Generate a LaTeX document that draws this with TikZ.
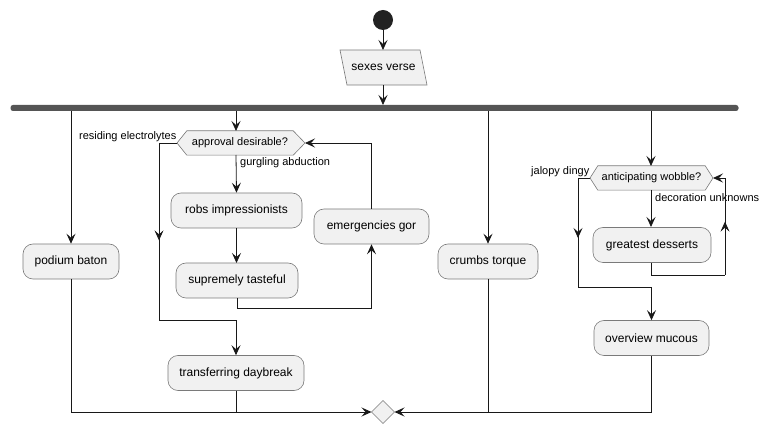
\documentclass[tikz,border=0pt]{standalone}
\usepackage{fontspec}
\setmainfont{Liberation Sans}
\usetikzlibrary{arrows.meta,decorations.markings,backgrounds}
\definecolor{boxfill}{HTML}{F1F1F1}
\definecolor{boxline}{HTML}{7A7A7A}
\definecolor{ink}{HTML}{181818}
\definecolor{barfill}{HTML}{555555}
\definecolor{dotfill}{HTML}{222222}

\begin{document}
\begin{tikzpicture}[x=1pt,y=-1pt,
  every node/.style={font=\fontsize{12}{14}\selectfont},
  act/.style={draw=boxline, fill=boxfill, rounded corners=10pt, line width=0.6pt,
              minimum height=35pt, inner sep=0pt},
  shapeline/.style={draw=boxline, fill=boxfill, line width=0.6pt, line join=miter},
  condtext/.style={inner sep=0pt, minimum height=24pt, font=\fontsize{11}{13}\selectfont},
  lbl/.style={inner sep=0pt, font=\fontsize{11}{13}\selectfont},
  flow/.style={draw=ink, line width=0.8pt},
  tip/.style={-{Stealth[length=10pt,width=9pt,inset=4pt]}},
  midarrow/.style={postaction={decorate}, decoration={markings,
      mark=at position 0.55 with {\arrow{Stealth[length=10pt,width=9pt,inset=4pt]}}}},
]
\useasboundingbox (0,0) rectangle (771,435);

% start, input and fork
\node[circle, fill=dotfill, minimum size=20pt, inner sep=0pt] (start) at (383,20) {};
\node[inner sep=0pt, minimum width=80pt, minimum height=35pt] (io) at (383.5,67.5) {sexes verse};
\node[fill=barfill, rounded corners=2.5pt, minimum width=728pt, minimum height=6pt, inner sep=0pt] (fork) at (374.5,108) {};

% branch 1
\node[act, minimum width=96pt] (podium) at (71,261.5) {podium baton};

% branch 2
\node[condtext, minimum width=106pt] (approval) at (240,143) {approval desirable?};
\coordinate (approvalW) at (177,143);
\coordinate (approvalE) at (305,143);
\node[act, minimum width=131pt] (robs) at (236.5,210.5) {robs impressionists};
\node[act, minimum width=122pt] (supreme) at (237,280.5) {supremely tasteful};
\node[act, minimum width=115pt] (emerg) at (371.5,226.5) {emergencies gor};
\node[act, minimum width=136pt] (transfer) at (236,373) {transferring daybreak};

% branch 3
\node[act, minimum width=100pt] (crumbs) at (488,261.5) {crumbs torque};

% branch 4
\node[condtext, minimum width=107pt] (wobble) at (651.5,178) {anticipating wobble?};
\coordinate (wobbleW) at (590,178);
\coordinate (wobbleE) at (713,178);
\node[act, minimum width=118pt] (dessert) at (652,245) {greatest desserts};
\node[act, minimum width=115pt] (overview) at (651.5,338) {overview mucous};

% merge
\coordinate (mergeW) at (371.5,412);
\coordinate (mergeE) at (394.5,412);
\coordinate (mergeN) at (383,400.5);
\coordinate (mergeS) at (383,423.5);

% shapes drawn behind their texts
\begin{scope}[on background layer]
  \draw[shapeline] (340,50) -- (420,50) -- (427,85) -- (347,85) -- cycle;
  \draw[shapeline] (approvalW) -- (approval.north west) -- (approval.north east)
        -- (approvalE) -- (approval.south east) -- (approval.south west) -- cycle;
  \draw[shapeline] (wobbleW) -- (wobble.north west) -- (wobble.north east)
        -- (wobbleE) -- (wobble.south east) -- (wobble.south west) -- cycle;
  \draw[shapeline] (mergeW) -- (mergeN) -- (mergeE) -- (mergeS) -- cycle;
\end{scope}

% edge labels
\node[lbl, anchor=east] (lresid) at (176.5,137) {residing electrolytes};
\node[lbl, anchor=west] (lgurg) at (240,163) {gurgling abduction};
\node[lbl, anchor=east] (ljal) at (589.5,172) {jalopy dingy};
\node[lbl, anchor=west] (ldeco) at (655,198) {decoration unknowns};

% top part
\draw[flow, tip] (start) -- (383,50);
\draw[flow, tip] (383,85) -- (383,105);

% branch 1
\draw[flow, tip] (71,111) -- (podium.north);
% branch 2
\draw[flow, tip] (236,111) -- (236,131);
\draw[flow, tip] (236,155) -- (robs.north);
\draw[flow, tip] (robs.south) -- (236.5,263);
\draw[flow, tip] (supreme.south) |- (371.5,308) -- (emerg.south);
\draw[flow, tip] (emerg.north) |- (approvalE);
\draw[flow] (approvalW) -- (159,143);
\draw[flow, midarrow] (159,143) -- (159,320);
\draw[flow, tip] (159,320) -| (transfer.north);
% branch 3
\draw[flow, tip] (488,111) -- (crumbs.north);
% branch 4
\draw[flow, tip] (651,111) -- (651,166);
\draw[flow, tip] (651,190) -- (651,227);
\draw[flow] (651,263) |- (725,275);
\draw[flow, midarrow] (725,275) -- (725,178);
\draw[flow, tip] (725,178) -- (wobbleE);
\draw[flow] (wobbleW) -- (578,178);
\draw[flow, midarrow] (578,178) -- (578,287);
\draw[flow, tip] (578,287) -| (overview.north);

% joins into the merge
\draw[flow, tip] (podium.south) |- (mergeW);
\draw[flow] (transfer.south) -- (236,412);
\draw[flow, tip] (overview.south) |- (mergeE);
\draw[flow] (crumbs.south) -- (488,412);
\end{tikzpicture}
\end{document}
